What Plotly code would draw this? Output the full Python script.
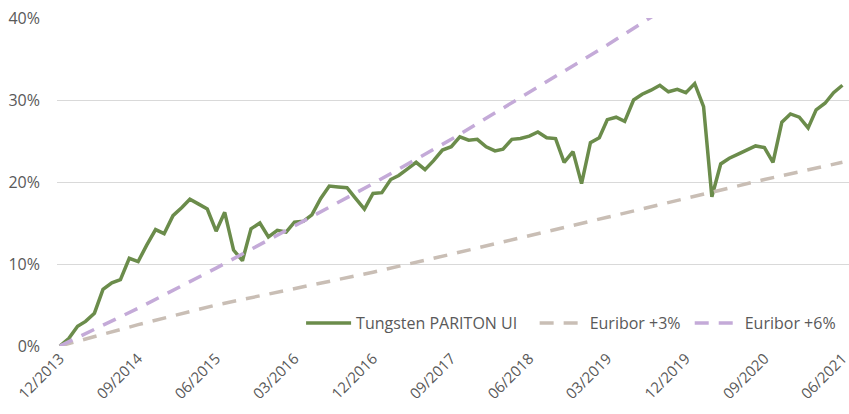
import pandas as pd
import plotly.graph_objects as go

# Monthly dates Dec 2013 .. Jun 2021
months = pd.date_range("2013-12-01", "2021-06-01", freq="MS")

tungsten = [
    0.0, 0.9, 2.4, 3.0, 4.0, 6.9, 7.7, 8.1, 10.7, 10.3,
    12.3, 14.2, 13.7, 15.9, 16.9, 17.9, 17.3, 16.7, 14.0, 16.3,
    11.7, 10.4, 14.3, 15.0, 13.3, 14.1, 13.9, 15.1, 15.2, 16.0,
    18.0, 19.5, 19.4, 19.3, 18.0, 16.7, 18.6, 18.7, 20.3, 20.8,
    21.6, 22.4, 21.5, 22.6, 23.9, 24.3, 25.5, 25.1, 25.2, 24.3,
    23.8, 24.0, 25.2, 25.3, 25.6, 26.1, 25.4, 25.3, 22.4, 23.7,
    19.8, 24.8, 25.4, 27.6, 27.9, 27.4, 30.0, 30.7, 31.2, 31.8,
    31.0, 31.3, 30.9, 32.0, 29.2, 18.2, 22.2, 22.9, 23.4, 23.9,
    24.4, 24.2, 22.4, 27.3, 28.3, 27.9, 26.6, 28.8, 29.6, 30.9,
    31.8,
]

# Tick dates (every 9 months)
tick_dates = pd.date_range("2013-12-01", "2021-06-01", freq="9MS")
tick_labels = [d.strftime("%m/%Y") for d in tick_dates]

y_ticks = [0, 10, 20, 30, 40]
y_labels = ["0%", "10%", "20%", "30%", "40%"]

euribor3_dates = list(tick_dates)
euribor3 = [0.0, 2.6, 5.0, 7.0, 9.0, 11.2, 13.5, 15.7, 18.0, 20.3, 22.4]

euribor6_dates = list(tick_dates[:9])
euribor6 = [0.0, 4.6, 9.5, 14.6, 19.8, 25.2, 31.0, 36.7, 42.8]

GREEN = "#6b8c4b"
GREY = "#c9beb5"
PURPLE = "#c4aad8"
TEXT = "#595959"
NB = "\u00a0"

fig = go.Figure()
fig.add_trace(go.Scatter(
    x=months, y=tungsten, mode="lines", name="Tungsten PARITON UI" + NB * 3,
    line=dict(color=GREEN, width=3.5),
))
fig.add_trace(go.Scatter(
    x=euribor3_dates, y=euribor3, mode="lines", name="Euribor +3%" + NB,
    line=dict(color=GREY, width=3.5, dash="14px,10px"),
))
fig.add_trace(go.Scatter(
    x=euribor6_dates, y=euribor6, mode="lines", name="Euribor +6%",
    line=dict(color=PURPLE, width=3.5, dash="14px,10px"),
))

fig.update_layout(
    width=849, height=414,
    margin=dict(l=57, r=0, t=18, b=68, autoexpand=False),
    paper_bgcolor="white", plot_bgcolor="white",
    font=dict(family="Open Sans", size=16, color=TEXT),
    showlegend=True,
    legend=dict(
        orientation="h", x=0.99, xanchor="right", y=0.07, yanchor="middle",
        bgcolor="rgba(0,0,0,0)", font=dict(size=16, color=TEXT),
        itemwidth=45, tracegroupgap=0,
    ),
    xaxis=dict(
        type="date", automargin=False,
        range=["2013-11-21", "2021-06-24"],
        tickvals=list(tick_dates), ticktext=tick_labels,
        tickangle=-45, showgrid=False, zeroline=False, showline=False,
        ticks="", tickfont=dict(size=15, color=TEXT),
        ticklabeloverflow="allow",
    ),
    yaxis=dict(
        automargin=False,
        range=[0, 40], tickvals=y_ticks, ticktext=y_labels,
        showgrid=True, gridcolor="#d9d9d9", gridwidth=1,
        zeroline=False, showline=False, ticks="",
        tickfont=dict(size=16, color=TEXT),
        ticklabelstandoff=16,
    ),
)

fig.write_html(
    "out.html",
    config={"displayModeBar": False},
    post_script="document.body.style.margin='0px';",
)
